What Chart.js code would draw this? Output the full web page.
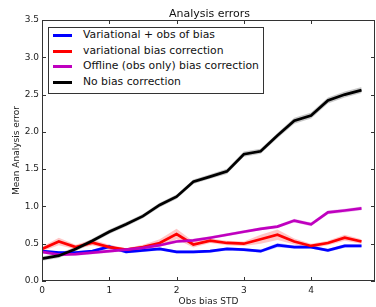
<!DOCTYPE html>
<html>
<head>
<meta charset="utf-8">
<script src="https://cdn.jsdelivr.net/npm/chart.js@4.4.1/dist/chart.umd.min.js"></script>
<style>
  html, body { margin: 0; padding: 0; background: #fff; overflow: hidden; }
  #wrap { position: relative; width: 376px; height: 307px; }
  #legend {
    position: absolute; left: 48px; top: 27px; width: 214px; height: 65px;
    border: 1px solid #333; background: #fff; font: 10.8px "DejaVu Sans", sans-serif; color: #111;
  }
  .row { position: absolute; left: 0; height: 14px; width: 100%; }
  .row i { position: absolute; left: 4px; top: 6px; width: 19px; height: 3px; }
  .row span { position: absolute; left: 34px; top: 0; line-height: 14px; white-space: nowrap; }
</style>
</head>
<body>
<div id="wrap">
  <canvas id="chart" width="376" height="307"></canvas>
  <div id="legend"></div>
</div>
<script>
const xValues = [0, 0.25, 0.5, 0.75, 1, 1.25, 1.5, 1.75, 2, 2.25, 2.5, 2.75, 3, 3.25, 3.5, 3.75, 4, 4.25, 4.5, 4.75];

const seriesLabels = ['Variational + obs of bias', 'variational bias correction', 'Offline (obs only) bias correction', 'No bias correction'];
const seriesColors = ['#0000ff', '#ff0000', '#bf00bf', '#000000'];
const bandColors = ['rgba(0,0,255,0.22)', 'rgba(255,0,0,0.22)', 'rgba(191,0,191,0.22)', 'rgba(0,0,0,0.22)'];

const varObsBias = [0.40, 0.38, 0.38, 0.40, 0.46, 0.39, 0.41, 0.43, 0.39, 0.39, 0.40, 0.43, 0.42, 0.40, 0.48, 0.455, 0.455, 0.41, 0.47, 0.47];
const varBiasCorr = [0.43, 0.53, 0.455, 0.515, 0.455, 0.42, 0.455, 0.51, 0.63, 0.49, 0.54, 0.51, 0.50, 0.56, 0.62, 0.53, 0.47, 0.51, 0.58, 0.53];
const offlineBiasCorr = [0.39, 0.355, 0.36, 0.38, 0.40, 0.42, 0.445, 0.48, 0.53, 0.545, 0.58, 0.62, 0.66, 0.70, 0.73, 0.81, 0.76, 0.92, 0.945, 0.975];
const noBiasCorr = [0.30, 0.34, 0.43, 0.54, 0.66, 0.76, 0.87, 1.02, 1.13, 1.33, 1.40, 1.47, 1.70, 1.74, 1.95, 2.15, 2.22, 2.42, 2.50, 2.56];

// half-width of the shaded band round each line
const varObsBiasSpread = [0.02, 0.02, 0.02, 0.02, 0.03, 0.02, 0.02, 0.02, 0.02, 0.02, 0.02, 0.02, 0.02, 0.02, 0.03, 0.02, 0.02, 0.02, 0.025, 0.02];
const varBiasCorrSpread = [0.03, 0.05, 0.03, 0.04, 0.03, 0.02, 0.03, 0.05, 0.07, 0.04, 0.03, 0.03, 0.03, 0.06, 0.07, 0.04, 0.03, 0.03, 0.04, 0.03];
const offlineBiasCorrSpread = [0.02, 0.02, 0.02, 0.02, 0.02, 0.02, 0.02, 0.02, 0.02, 0.02, 0.02, 0.02, 0.02, 0.02, 0.02, 0.025, 0.025, 0.025, 0.025, 0.025];
const noBiasCorrSpread = [0.03, 0.03, 0.03, 0.03, 0.03, 0.03, 0.03, 0.03, 0.03, 0.03, 0.03, 0.035, 0.035, 0.035, 0.035, 0.04, 0.04, 0.04, 0.04, 0.04];

const xTicks = [0, 1, 2, 3, 4];
const yTicks = [0, 0.5, 1, 1.5, 2, 2.5, 3, 3.5];

const series = [varObsBias, varBiasCorr, offlineBiasCorr, noBiasCorr];
const spreads = [varObsBiasSpread, varBiasCorrSpread, offlineBiasCorrSpread, noBiasCorrSpread];

const pts = arr => arr.map((v, i) => ({ x: xValues[i], y: v }));

const datasets = [];
series.forEach((s, k) => {
    datasets.push({ data: pts(s.map((v, i) => v + spreads[k][i])), borderWidth: 0, pointRadius: 0, fill: false, order: 20 + k });
    datasets.push({ data: pts(s.map((v, i) => v - spreads[k][i])), borderWidth: 0, pointRadius: 0, fill: '-1', backgroundColor: bandColors[k], order: 20 + k });
});
series.forEach((s, k) => {
    datasets.push({ data: pts(s), borderColor: seriesColors[k], borderWidth: 2.7, pointRadius: 0, fill: false, tension: 0, order: 3 - k });
});

// matplotlib-like frame, inward ticks and title
const framePlugin = {
    id: 'frame',
    afterDraw(chart) {
        const { ctx, chartArea: a, scales } = chart;
        ctx.save();
        ctx.strokeStyle = '#333';
        ctx.lineWidth = 1;
        ctx.strokeRect(a.left + 0.5, a.top + 0.5, a.right - a.left - 1, a.bottom - a.top - 1);
        ctx.beginPath();
        xTicks.forEach(t => {
            const x = Math.round(scales.x.getPixelForValue(t)) + 0.5;
            ctx.moveTo(x, a.bottom); ctx.lineTo(x, a.bottom - 4);
            ctx.moveTo(x, a.top); ctx.lineTo(x, a.top + 4);
        });
        yTicks.forEach(t => {
            const y = Math.round(scales.y.getPixelForValue(t)) + 0.5;
            ctx.moveTo(a.left, y); ctx.lineTo(a.left + 4, y);
            ctx.moveTo(a.right, y); ctx.lineTo(a.right - 4, y);
        });
        ctx.stroke();
        ctx.fillStyle = '#111';
        ctx.font = '11px "DejaVu Sans"';
        ctx.textAlign = 'center';
        ctx.textBaseline = 'alphabetic';
        ctx.fillText('Analysis errors', (a.left + a.right) / 2 + 1, 17);
        ctx.restore();
    }
};

new Chart(document.getElementById('chart'), {
    type: 'line',
    data: { datasets },
    options: {
        responsive: false,
        animation: false,
        layout: { padding: { top: 20, right: 1, left: 0, bottom: 0 } },
        plugins: { legend: { display: false }, tooltip: { enabled: false } },
        scales: {
            x: {
                type: 'linear', min: 0, max: 4.95,
                grid: { display: false, drawTicks: false }, border: { display: false },
                ticks: { stepSize: 1, includeBounds: false, padding: 4, maxRotation: 0, color: '#222', font: { family: 'DejaVu Sans', size: 9 } },
                title: { display: true, text: 'Obs bias STD', color: '#222', padding: 0, font: { family: 'DejaVu Sans', size: 9 } },
                afterFit: s => { s.height = 26; }
            },
            y: {
                min: 0, max: 3.5,
                grid: { display: false, drawTicks: false }, border: { display: false },
                ticks: { stepSize: 0.5, padding: 3, color: '#222', font: { family: 'DejaVu Sans', size: 9 }, callback: v => v.toFixed(1) },
                title: { display: true, text: 'Mean Analysis error', color: '#222', padding: { top: 11, bottom: 0 }, font: { family: 'DejaVu Sans', size: 9 } },
                afterFit: s => { s.width = 42; }
            }
        }
    },
    plugins: [framePlugin]
});

const legend = document.getElementById('legend');
seriesLabels.forEach((label, k) => {
    const row = document.createElement('div');
    row.className = 'row';
    row.style.top = (k * 15.7) + 'px';
    row.innerHTML = `<i style="background:${seriesColors[k]}"></i><span>${label}</span>`;
    legend.appendChild(row);
});
</script>
</body>
</html>
